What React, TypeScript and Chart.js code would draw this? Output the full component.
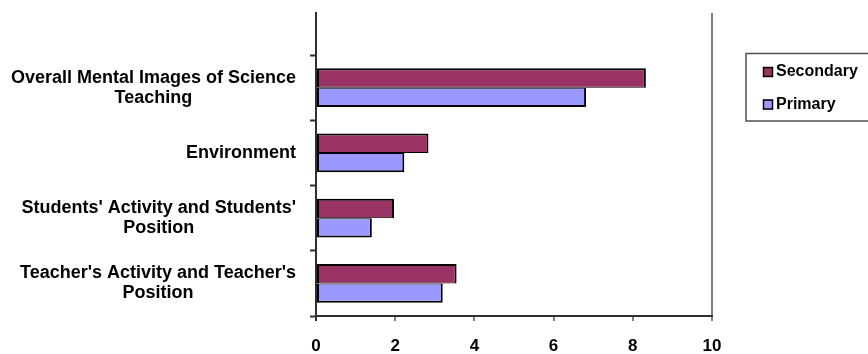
import { useEffect, useRef } from 'react';
import { Chart, registerables } from 'chart.js';

Chart.register(...registerables);

const categories: string[][] = [
  ['Overall Mental Images of Science', 'Teaching'],
  ['Environment'],
  ["Students' Activity and Students'", 'Position'],
  ["Teacher's Activity and Teacher's", 'Position'],
];
const seriesNames = ['Secondary', 'Primary'];
const secondaryValues = [8.33, 2.84, 1.97, 3.55];
const primaryValues = [6.82, 2.23, 1.41, 3.2];
const xTickValues = [0, 2, 4, 6, 8, 10];
const categoryBoundaries = [-0.5, 0.5, 1.5, 2.5, 3.5];

const FONT = '"Liberation Sans", Arial, Helvetica, sans-serif';
const COLORS = ['#993366', '#9999FF'];

const categoryLabelsPlugin = {
  id: 'categoryLabels',
  afterDraw(chart: any) {
    const { ctx, chartArea } = chart;
    const yScale = chart.scales.y;
    const labels: string[][] = chart.data.labels;
    ctx.save();
    ctx.font = `bold 18px ${FONT}`;
    ctx.fillStyle = '#000000';
    ctx.textAlign = 'center';
    ctx.textBaseline = 'middle';
    const lineH = 20;
    labels.forEach((lines, i) => {
      const cy = yScale.getPixelForValue(i);
      const w = Math.max(...lines.map((l) => ctx.measureText(l).width));
      const cx = chartArea.left - 20 - w / 2;
      lines.forEach((l, j) => {
        ctx.fillText(l, cx, cy + (j - (lines.length - 1) / 2) * lineH);
      });
    });
    ctx.restore();
  },
};

const boxLegendPlugin = {
  id: 'boxLegend',
  afterDraw(chart: any) {
    const { ctx, chartArea } = chart;
    const left = chartArea.right + 34;
    const top = chartArea.top + 40.5;
    const w = 125;
    const h = 67.5;
    ctx.save();
    ctx.strokeStyle = '#505050';
    ctx.lineWidth = 1.5;
    ctx.strokeRect(left, top, w, h);
    ctx.font = `bold 16px ${FONT}`;
    ctx.textBaseline = 'middle';
    ctx.textAlign = 'left';
    chart.data.datasets.forEach((ds: any, i: number) => {
      const cy = top + 18.5 + i * 32.5;
      ctx.fillStyle = ds.backgroundColor;
      ctx.fillRect(left + 17, cy - 5, 10, 10);
      ctx.strokeStyle = '#000000';
      ctx.lineWidth = 1.5;
      ctx.strokeRect(left + 17.5, cy - 4.5, 9, 9);
      ctx.fillStyle = '#000000';
      ctx.fillText(ds.label, left + 30, cy);
    });
    ctx.restore();
  },
};

export default function App() {
  const canvasRef = useRef<HTMLCanvasElement | null>(null);

  useEffect(() => {
    if (!canvasRef.current) return;
    const chart = new Chart(canvasRef.current, {
      type: 'bar',
      data: {
        labels: categories as any,
        datasets: [
          {
            label: seriesNames[0],
            data: secondaryValues.map((v, i) => ({ x: v, y: i })),
            backgroundColor: COLORS[0],
            borderColor: '#000000',
            borderWidth: { top: 2, right: 2, bottom: 1, left: 2 },
            borderSkipped: false,
          },
          {
            label: seriesNames[1],
            data: primaryValues.map((v, i) => ({ x: v, y: i })),
            backgroundColor: COLORS[1],
            borderColor: '#000000',
            borderWidth: { top: 1, right: 2, bottom: 2, left: 2 },
            borderSkipped: false,
          },
        ] as any,
      },
      options: {
        indexAxis: 'y',
        responsive: false,
        animation: false,
        events: [],
        layout: { padding: { top: 13, left: 0, right: 156, bottom: 0 } },
        datasets: {
          bar: { categoryPercentage: 0.594, barPercentage: 1 },
        },
        plugins: {
          legend: { display: false },
          tooltip: { enabled: false },
          title: { display: false },
        },
        scales: {
          x: {
            type: 'linear',
            min: 0,
            max: 10,
            offset: false,
            afterBuildTicks: (scale: any) => {
              scale.ticks = xTickValues.map((v) => ({ value: v }));
            },
            afterFit: (scale: any) => {
              scale.height = 38;
            },
            border: { display: true, color: '#303030', width: 2 },
            grid: {
              offset: false,
              drawOnChartArea: true,
              drawTicks: true,
              tickLength: 5,
              color: (c: any) => (c.tick && c.tick.value === 10 ? '#808080' : 'rgba(0,0,0,0)'),
              lineWidth: 2,
              tickColor: (c: any) => (c.tick && c.tick.value === 0 ? '#303030' : '#808080'),
              tickWidth: 2,
            },
            ticks: {
              color: '#000000',
              font: { family: FONT, size: 17, weight: 'bold' },
              padding: 15,
              maxRotation: 0,
            },
          },
          y: {
            type: 'linear',
            reverse: true,
            offset: false,
            min: -1.144,
            max: 3.5,
            afterBuildTicks: (scale: any) => {
              scale.ticks = categoryBoundaries.map((v) => ({ value: v }));
            },
            afterFit: (scale: any) => {
              scale.width = 316;
            },
            border: { display: true, color: '#303030', width: 2 },
            grid: {
              offset: false,
              drawOnChartArea: false,
              drawTicks: true,
              tickLength: 6,
              tickColor: '#303030',
              tickWidth: 2,
            },
            ticks: { display: false },
          },
        },
      } as any,
      plugins: [categoryLabelsPlugin, boxLegendPlugin],
    });
    return () => chart.destroy();
  }, []);

  return (
    <div
      style={{
        position: 'fixed',
        left: 0,
        top: 0,
        width: 868,
        height: 354,
        background: '#ffffff',
      }}
    >
      <canvas ref={canvasRef} width={868} height={354} style={{ display: 'block' }} />
    </div>
  );
}
